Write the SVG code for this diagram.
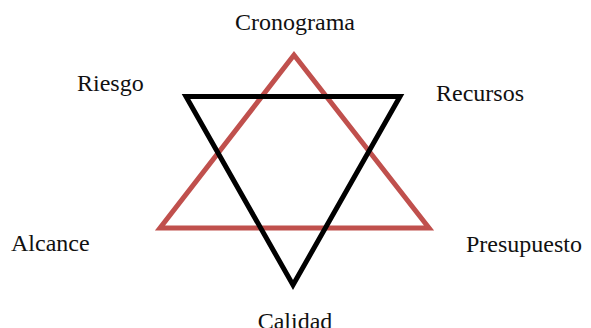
<svg xmlns="http://www.w3.org/2000/svg" width="591" height="328" viewBox="0 0 591 328">
<style>
.lbl{font-family:"Liberation Serif","Times New Roman",serif;font-size:24px;fill:#111}
.tri{fill:none;stroke-width:5;stroke-linejoin:miter}
</style>
<rect width="591" height="328" fill="#fff"/>
<g id="connectors">
<polygon id="red-triangle" class="tri" points="294,55 160,228 429,228" stroke="#c0504d"/>
<polygon id="black-triangle" class="tri" points="186,96.5 400,96.5 293,285" stroke="#000"/>
</g>
<g id="cronograma"><text class="lbl" x="295" y="30" text-anchor="middle">Cronograma</text></g>
<g id="riesgo"><text class="lbl" x="77" y="91">Riesgo</text></g>
<g id="recursos"><text class="lbl" x="436" y="101">Recursos</text></g>
<g id="alcance"><text class="lbl" x="11" y="251">Alcance</text></g>
<g id="presupuesto"><text class="lbl" x="466" y="252">Presupuesto</text></g>
<g id="calidad"><text class="lbl" x="295" y="329" text-anchor="middle">Calidad</text></g>
</svg>
